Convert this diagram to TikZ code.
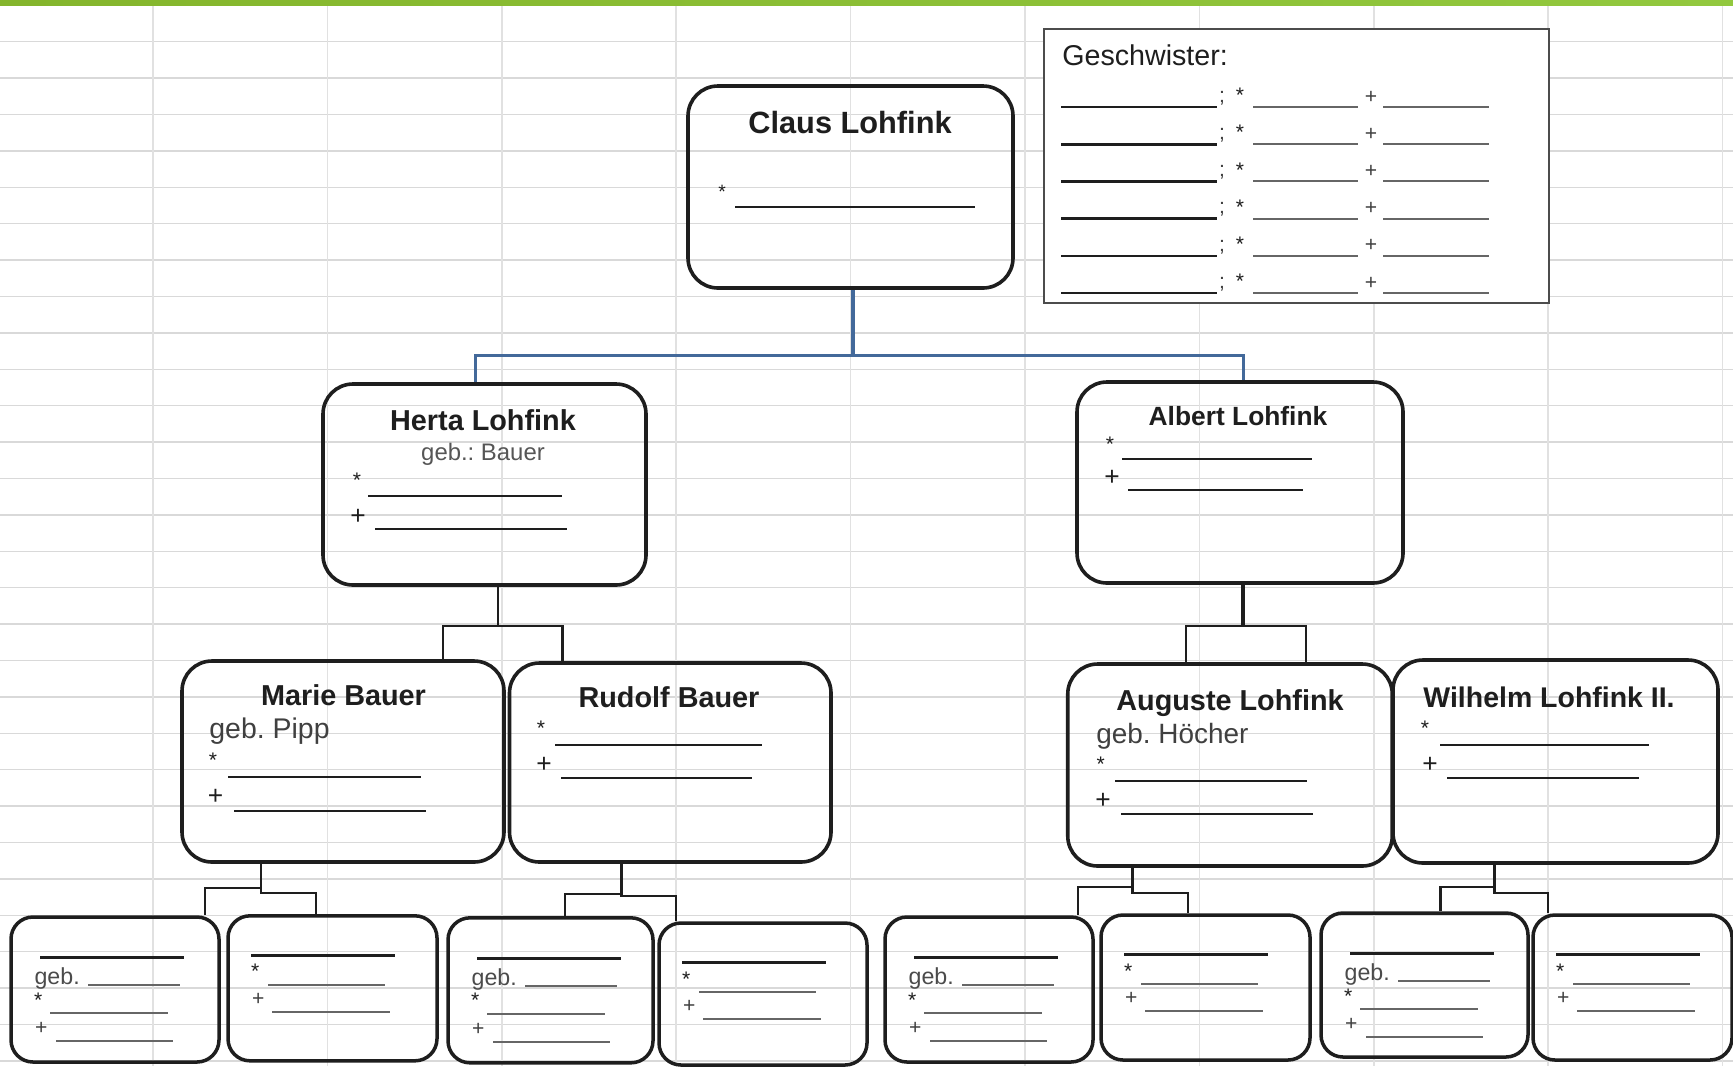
\documentclass[tikz,border=0pt]{standalone}
\usepackage{fontspec}
\setmainfont{Liberation Sans}
\usetikzlibrary{positioning}
\frenchspacing

\newlength{\pxu}
\setlength{\pxu}{0.02cm}

\definecolor{sheetgrid}{HTML}{D9D9D9}
\definecolor{barolive}{HTML}{84B52C}
\definecolor{barlime}{HTML}{C6DF3B}
\definecolor{bargreen}{HTML}{92C83E}
\definecolor{treeblue}{HTML}{43699A}
\definecolor{inkgray}{HTML}{666666}
\definecolor{textink}{HTML}{1E1E1E}

\tikzset{
  card/.style={draw=textink, line width=3.6\pxu, rounded corners=30\pxu, inner sep=0pt},
  minicard/.style={draw=textink, line width=3.5\pxu, rounded corners=22\pxu, inner sep=0pt},
  namelabel/.style={font=\fontsize{16.4}{18}\selectfont\bfseries, text=textink, inner sep=0pt, anchor=base},
  maidenlabel/.style={font=\fontsize{16}{18}\selectfont, text=textink!85, inner sep=0pt, anchor=base west},
  gebsmall/.style={font=\fontsize{13.2}{15}\selectfont, text=textink!80, inner sep=0pt, anchor=base west},
  starlabel/.style={font=\fontsize{12}{14}\selectfont, text=textink, inner sep=0pt, yshift=-4.5\pxu},
  crosslabel/.style={font=\fontsize{15}{16}\selectfont, text=textink, inner sep=0pt},
  smallcross/.style={font=\fontsize{12}{14}\selectfont, text=textink!85, inner sep=0pt},
  blankline/.style={line width=2.6\pxu, textink},
  softline/.style={line width=2\pxu, inkgray},
  kinline/.style={line width=2.6\pxu, textink},
  blueline/.style={line width=3\pxu, treeblue},
}

\begin{document}
\begin{tikzpicture}[x=\pxu, y=-\pxu]
  % sheet background
  \fill[white] (0,0) rectangle (1733,1066);
  \useasboundingbox (0,0) rectangle (1733,1066);
  \foreach \gy in {0,...,28}
    \draw[sheetgrid, line width=1.5\pxu] (0,{41.7+36.4*\gy}) -- (1733,{41.7+36.4*\gy});
  \foreach \gx in {0,...,9}
    \draw[sheetgrid!80, line width=1.5\pxu] ({153+174.4*\gx},5) -- ({153+174.4*\gx},1066);
  \shade[left color=barolive, middle color=barlime, right color=bargreen] (0,0) rectangle (1733,5);

  % siblings list
  \node[draw=black!70, fill=white, line width=2\pxu, minimum width=505\pxu, minimum height=274\pxu, inner sep=0pt] (siblings) at (1296.5,166) {};
  \node[font=\fontsize{16.3}{18}\selectfont, text=textink, inner sep=0pt, anchor=base west] (siblings-head) at (1062,65) {Geschwister:};
  \foreach \row in {0,...,5} {
    \pgfmathsetmacro{\ry}{107+37.2*\row}
    \draw[blankline] (1061,\ry) -- (1217,\ry);
    \node[smallcross] (sib-sep-\row) at (1222,{\ry-9}) {;};
    \node[starlabel] (sib-born-\row) at (1240,{\ry-16}) {*};
    \draw[softline] (1253,\ry) -- (1358,\ry);
    \node[smallcross] (sib-died-\row) at (1371,{\ry-10}) {+};
    \draw[softline] (1383,\ry) -- (1489,\ry);
  }

  % family cards
  \node[card, minimum width=325\pxu, minimum height=202\pxu] (claus) at (850.5,187) {};
  \node[card, minimum width=323\pxu, minimum height=201\pxu] (herta) at (484.5,484.5) {};
  \node[card, minimum width=326\pxu, minimum height=201\pxu] (albert) at (1240,482.5) {};
  \node[card, minimum width=322\pxu, minimum height=201\pxu] (marie) at (343,761.5) {};
  \node[card, minimum width=321.5\pxu, minimum height=199\pxu] (rudolf) at (670.25,762.5) {};
  \node[card, minimum width=324.5\pxu, minimum height=202\pxu] (auguste) at (1230,765) {};
  \node[card, minimum width=325\pxu, minimum height=203\pxu] (wilhelm) at (1555.5,761.5) {};

  \node[minicard, minimum width=208\pxu, minimum height=145\pxu] (kida) at (115,989.5) {};
  \node[minicard, minimum width=209\pxu, minimum height=145\pxu] (kidb) at (332.5,988.3) {};
  \node[minicard, minimum width=205\pxu, minimum height=145\pxu] (kidc) at (550.5,990.3) {};
  \node[minicard, minimum width=208\pxu, minimum height=142\pxu] (kidd) at (763,994) {};
  \node[minicard, minimum width=208\pxu, minimum height=145\pxu] (kide) at (989,989.5) {};
  \node[minicard, minimum width=209\pxu, minimum height=145\pxu] (kidf) at (1205.5,987.5) {};
  \node[minicard, minimum width=207\pxu, minimum height=144\pxu] (kidg) at (1424.5,985) {};
  \node[minicard, minimum width=199\pxu, minimum height=145\pxu] (kidh) at (1632.5,987.5) {};

  % blue link from Claus
  \draw[blueline, line width=4\pxu] ([xshift=2.5\pxu]claus.south) -- ++(0,66) coordinate (claussplit);
  \draw[blueline] (claussplit) -| ([xshift=-9.5\pxu]herta.north);
  \draw[blueline] (claussplit) -| ([xshift=3\pxu]albert.north);

  % parents links
  \draw[kinline] ([xshift=13.5\pxu]herta.south) -- ++(0,39) coordinate (hertasplit);
  \draw[kinline] (hertasplit) -| ([xshift=100\pxu]marie.north);
  \draw[kinline] (hertasplit) -| ([xshift=-107.75\pxu]rudolf.north);
  \draw[kinline, line width=3.2\pxu] ([xshift=3\pxu]albert.south) -- ++(0,41) coordinate (albertsplit);
  \draw[kinline] (albertsplit) -| ([xshift=-44\pxu]auguste.north);
  \draw[kinline] (albertsplit) -| ([xshift=76\pxu]auguste.north);

  \draw[kinline] ([xshift=-82\pxu]marie.south) -- ++(0,29) -| ([xshift=-16.5\pxu]kidb.north);
  \draw[kinline] ([xshift=-82\pxu]marie.south) ++(0,24) -| ([xshift=90\pxu]kida.north);
  \draw[kinline] ([xshift=-49\pxu]rudolf.south) -- ++(0,32) -| ([xshift=-87\pxu]kidd.north);
  \draw[kinline] ([xshift=-49\pxu]rudolf.south) ++(0,30) -| ([xshift=14.5\pxu]kidc.north);
  \draw[kinline] ([xshift=-97.5\pxu]auguste.south) -- ++(0,25) -| ([xshift=-17.5\pxu]kidf.north);
  \draw[kinline] ([xshift=-97.5\pxu]auguste.south) ++(0,19) -| ([xshift=89\pxu]kide.north);
  \draw[kinline] ([xshift=-61\pxu]wilhelm.south) -- ++(0,28) -| ([xshift=-84.5\pxu]kidh.north);
  \draw[kinline] ([xshift=-61\pxu]wilhelm.south) ++(0,22) -| ([xshift=16\pxu]kidg.north);

  % Claus
  \node[namelabel, font=\fontsize{17.5}{19}\selectfont\bfseries] (claus-name) at (850,133.3) {Claus Lohfink};
  \node[starlabel, font=\fontsize{11}{12}\selectfont] (claus-born) at (722,187) {*};
  \draw[blankline] (735,207) -- (975,207);

  % Herta
  \node[namelabel] (herta-name) at (483,430.7) {Herta Lohfink};
  \node[font=\fontsize{13.6}{15}\selectfont, text=textink!75, inner sep=0pt, anchor=base] (herta-maiden) at (483,460.5) {geb.: Bauer};
  \node[starlabel] (herta-born) at (357,476) {*};
  \draw[blankline] (368,496) -- (562,496);
  \node[crosslabel] (herta-died) at (358,517) {+};
  \draw[blankline] (375,529) -- (567,529);

  % Albert
  \node[namelabel, font=\fontsize{15}{17}\selectfont\bfseries] (albert-name) at (1238,425) {Albert Lohfink};
  \node[starlabel] (albert-born) at (1110,440) {*};
  \draw[blankline] (1122,459) -- (1312,459);
  \node[crosslabel] (albert-died) at (1112,478) {+};
  \draw[blankline] (1128,490) -- (1303,490);

  % Marie
  \node[namelabel] (marie-name) at (343.5,705) {Marie Bauer};
  \node[maidenlabel, font=\fontsize{16.2}{18}\selectfont] (marie-maiden) at (209,738) {geb. Pipp};
  \node[starlabel] (marie-born) at (213,756) {*};
  \draw[blankline] (228,777) -- (421,777);
  \node[crosslabel] (marie-died) at (215.5,797) {+};
  \draw[blankline] (234,811) -- (426,811);

  % Rudolf
  \node[namelabel] (rudolf-name) at (669,707) {Rudolf Bauer};
  \node[starlabel] (rudolf-born) at (541,724) {*};
  \draw[blankline] (555,745) -- (762,745);
  \node[crosslabel] (rudolf-died) at (544,765) {+};
  \draw[blankline] (561,778) -- (752,778);

  % Auguste
  \node[namelabel] (auguste-name) at (1230,710) {Auguste Lohfink};
  \node[maidenlabel, font=\fontsize{15.9}{18}\selectfont] (auguste-maiden) at (1096,743) {geb. Höcher};
  \node[starlabel] (auguste-born) at (1100.6,760) {*};
  \draw[blankline] (1115,781) -- (1307,781);
  \node[crosslabel] (auguste-died) at (1103,801) {+};
  \draw[blankline] (1121,814) -- (1313,814);

  % Wilhelm
  \node[namelabel, font=\fontsize{16.2}{18}\selectfont\bfseries] (wilhelm-name) at (1549,707.3) {Wilhelm Lohfink II.};
  \node[starlabel] (wilhelm-born) at (1425,724) {*};
  \draw[blankline] (1440,745) -- (1649,745);
  \node[crosslabel] (wilhelm-died) at (1430,765) {+};
  \draw[blankline] (1447,778) -- (1639,778);

  % grandparents, with maiden name
  \foreach \kid in {kida,kidc,kide,kidg} {
    \begin{scope}[shift={(\kid.north west)}]
      \draw[blankline, line width=3\pxu] (31,42) -- (175,42);
      \node[gebsmall] (\kid-geb) at (25,69) {geb.};
      \draw[softline] (79,70) -- (171,70);
      \node[starlabel] (\kid-born) at (29,80) {*};
      \draw[softline] (41,98) -- (159,98);
      \node[smallcross] (\kid-died) at (32,113) {+};
      \draw[softline] (47,125.5) -- (164,125.5);
    \end{scope}
  }
  % grandparents, without
  \foreach \kid in {kidb,kidd,kidf,kidh} {
    \begin{scope}[shift={(\kid.north west)}]
      \draw[blankline, line width=3\pxu] (25,41.5) -- (169,41.5);
      \node[starlabel] (\kid-born) at (29,53) {*};
      \draw[softline] (42,70.5) -- (159,70.5);
      \node[smallcross] (\kid-died) at (32,85) {+};
      \draw[softline] (46,97.5) -- (164,97.5);
    \end{scope}
  }
\end{tikzpicture}
\end{document}
